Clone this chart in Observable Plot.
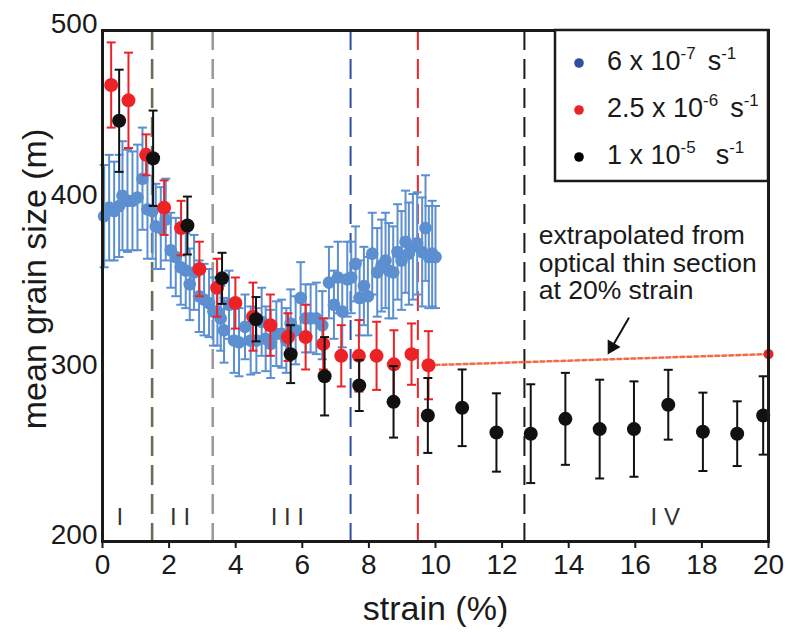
<!DOCTYPE html>
<html>
<head>
<meta charset="utf-8">
<script src="https://cdn.jsdelivr.net/npm/d3@7"></script>
<script src="https://cdn.jsdelivr.net/npm/@observablehq/plot@0.6"></script>
<style>
  body { margin: 0; background: #fff; }
  #wrap { position: relative; width: 793px; height: 632px; font-family: "Liberation Sans", Arial, Helvetica, sans-serif; }
  #wrap svg.overlay { position: absolute; left: 0; top: 0; pointer-events: none; }
</style>
</head>
<body>
<div id="wrap"></div>
<script>
// ---------- data ----------
// strain rate 6 x 10^-7 s^-1 (blue)
const blueStrain = [0.05,0.2,0.35,0.5,0.6,0.75,0.9,1.05,1.2,1.35,1.5,1.6,1.75,1.9,2.05,2.2,2.35,2.5,2.62,2.75,2.9,3.05,3.2,3.33,3.45,3.55,3.65,3.8,3.95,4.1,4.28,4.45,4.62,4.78,4.9,5.05,5.22,5.38,5.52,5.65,5.8,5.95,6.1,6.25,6.42,6.6,6.8,6.95,7.07,7.2,7.35,7.47,7.6,7.72,7.85,7.97,8.1,8.25,8.38,8.5,8.6,8.73,8.86,8.98,9.1,9.2,9.32,9.45,9.6,9.7,9.8,9.9,10.0];
const blueSize   = [391,396,394,397,403,400,400,402,413,395,394,385,384,389,371,367,361,359,351,358,344,342,340,335,335,331,324,339,318,317,326,318,318,329,319,316,322,322,318,328,324,343,331,331,331,327,352,339,355,335,354,355,363,343,350,344,369,358,362,365,359,358,370,365,376,369,373,375,370,384,367,369,367];
const blueErr    = [30,31,29,30,32,30,29,31,30,29,28,25,24,24,22,23,22,22,21,22,21,21,20,20,20,19,19,20,19,20,19,20,19,20,19,20,19,20,19,20,20,21,20,20,21,20,21,20,21,21,22,21,22,22,23,23,24,26,27,28,28,27,28,29,30,30,31,30,32,31,30,31,30];

// strain rate 2.5 x 10^-6 s^-1 (red)
const redStrain = [0.26,0.78,1.31,1.85,2.36,2.91,3.44,3.99,4.52,5.04,5.57,6.1,6.63,7.17,7.7,8.23,8.75,9.28,9.79];
const redSize   = [468,459,427,396,384,360,349,340,332,327,320,320,316,309,309,309,304,310,303.5];
const redErr    = [25,28,12,16,16,16,17,15,20,18,14,19,15,18,21,20,20,18,20];

// strain rate 1 x 10^-5 s^-1 (black)
const blackStrain = [0.5,1.52,2.55,3.59,4.61,5.65,6.67,7.71,8.74,9.77,10.8,11.83,12.86,13.9,14.93,15.96,16.99,18.03,19.06,19.84];
const blackSize   = [447,425,385.5,354.5,330.5,310,297,291.6,282,274,278.5,264,263.3,272,266,266,280.3,264.4,263.3,274];
const blackErr    = [30,28,17,15,13,17,23,15,21,22,22.5,23,29,27,29,28,20.5,23,19,23];

// extrapolated value (optical thin section at 20 % strain)
const extrapStrain = [9.79, 20];
const extrapSize   = [303.5, 310];

// regime boundaries
const boundaryStrain = [1.49, 3.31, 7.45, 9.47, 12.67];
const boundaryColor  = ["#6b6b58", "#9b9b9b", "#2f4fa3", "#e8262b", "#1a1a1a"];

// regime labels
const regimeLabels = ["I", "I I", "I I I", "I V"];
const regimeStrain = [0.52, 2.33, 5.55, 16.9];
const regimeSize   = [214, 214, 214, 214];

// ticks
const xTicks = [0,2,4,6,8,10,12,14,16,18,20];
const yTicks = [200,300,400,500];

// legend
const legendBase  = ["6 x 10", "2.5 x 10", "1 x 10"];
const legendExp   = ["-7", "-6", "-5"];
const legendColor = ["#2f4fa3", "#ec2227", "#000000"];

// annotation
const noteText = "extrapolated from\noptical thin section\nat 20% strain";

// ---------- build ----------
const rows = (s, v, e) => s.map((x, i) => ({strain: x, size: v[i], err: e[i]}));
const blue = rows(blueStrain, blueSize, blueErr);
const red = rows(redStrain, redSize, redErr);
const black = rows(blackStrain, blackSize, blackErr);
const extrap = extrapStrain.map((x, i) => ({strain: x, size: extrapSize[i]}));
const regimes = regimeLabels.map((t, i) => ({t, strain: regimeStrain[i], size: regimeSize[i]}));

const cap = {draw(ctx, size) { const w = Math.sqrt(size / Math.PI); ctx.moveTo(-w, 0); ctx.lineTo(w, 0); }};

function series(data, color, r, capR, sw) {
  return [
    Plot.ruleX(data, {x: "strain", y1: d => d.size - d.err, y2: d => d.size + d.err, stroke: color, strokeWidth: sw}),
    Plot.dot(data, {x: "strain", y: d => d.size + d.err, symbol: cap, r: capR, stroke: color, strokeWidth: sw, fill: "none"}),
    Plot.dot(data, {x: "strain", y: d => d.size - d.err, symbol: cap, r: capR, stroke: color, strokeWidth: sw, fill: "none"}),
    Plot.dot(data, {x: "strain", y: "size", r, fill: color, stroke: "none"})
  ];
}

const chart = Plot.plot({
  width: 793,
  height: 632,
  marginLeft: 102,
  marginRight: 25,
  marginTop: 30,
  marginBottom: 91,
  style: {fontFamily: '"Liberation Sans", Arial, Helvetica, sans-serif', color: "#1a1a1a", background: "#fff", overflow: "visible"},
  x: {domain: [0, 20]},
  y: {domain: [200, 500]},
  marks: [
    ...boundaryStrain.map((b, i) => Plot.ruleX([b], {x: d => d, stroke: boundaryColor[i], strokeWidth: i < 2 ? 2.6 : 2, strokeDasharray: "20,9"})),
    Plot.line(extrap, {x: "strain", y: "size", stroke: "#f26b4a", strokeWidth: 2.5, strokeDasharray: "4,3"}),
    ...series(blue, "#5b8fd0", 6.3, 4.5, 2),
    ...series(red, "#ec2227", 7, 4.5, 2),
    ...series(black, "#111111", 7, 4.5, 2),
    Plot.dot(extrap.slice(1), {x: "strain", y: "size", r: 5, fill: "#ec2227"}),
    Plot.text(regimes, {x: "strain", y: "size", text: "t", fontSize: 24, fill: "#333"}),
    Plot.text([noteText], {x: 13.1, y: 386, text: d => d, textAnchor: "start", lineAnchor: "top", fontSize: 26.5, lineHeight: 1.04, fill: "#1a1a1a"}),
    Plot.arrow([{x1: 15.8, y1: 331, x2: 15.28, y2: 313.5}], {x1: "x1", y1: "y1", x2: "x2", y2: "y2", stroke: "#111", strokeWidth: 2, headLength: 0}),
    Plot.dot([{x: 15.3, y: 314.2}], {x: "x", y: "y", symbol: "triangle", r: 5.5, rotate: 210, fill: "#111", stroke: "none"}),
    Plot.frame({stroke: "#1a1a1a", strokeWidth: 3}),
    Plot.axisX({ticks: xTicks, tickSize: 7, tickPadding: 6, fontSize: 28, label: null, stroke: "#1a1a1a", strokeWidth: 2}),
    Plot.axisY({ticks: yTicks, tickSize: 0, tickPadding: 5, fontSize: 28, label: null, dy: -6}),
    Plot.text(["strain (%)"], {frameAnchor: "bottom", text: d => d, dy: 78, fontSize: 34, fill: "#1a1a1a"}),
    Plot.text(["mean grain size (m)"], {frameAnchor: "left", textAnchor: "middle", lineAnchor: "middle", text: d => d, dx: -67, dy: -7, rotate: -90, fontSize: 34, fill: "#1a1a1a"})
  ]
});

const wrap = document.getElementById("wrap");
wrap.appendChild(chart);

// legend overlay
const ov = d3.select(wrap).append("svg").attr("class", "overlay").attr("width", 793).attr("height", 632)
  .style("font-family", '"Liberation Sans", Arial, Helvetica, sans-serif');
ov.append("rect").attr("x", 555).attr("y", 30).attr("width", 213).attr("height", 151)
  .attr("fill", "#fff").attr("stroke", "#1a1a1a").attr("stroke-width", 2.5);
const baselines = [70, 117, 164];
legendBase.forEach((b, i) => {
  ov.append("circle").attr("cx", 579).attr("cy", baselines[i] - 7).attr("r", 4.8).attr("fill", legendColor[i]);
  const t = ov.append("text").attr("x", 607).attr("y", baselines[i]).attr("font-size", 27).attr("fill", "#1a1a1a");
  t.append("tspan").text(b);
  t.append("tspan").attr("dy", -11).attr("font-size", 17).text(legendExp[i]);
  t.append("tspan").attr("dy", 11).attr("dx", i === 2 ? 20 : 12).text("s");
  t.append("tspan").attr("dy", -11).attr("font-size", 17).text("-1");
});
</script>
</body>
</html>
